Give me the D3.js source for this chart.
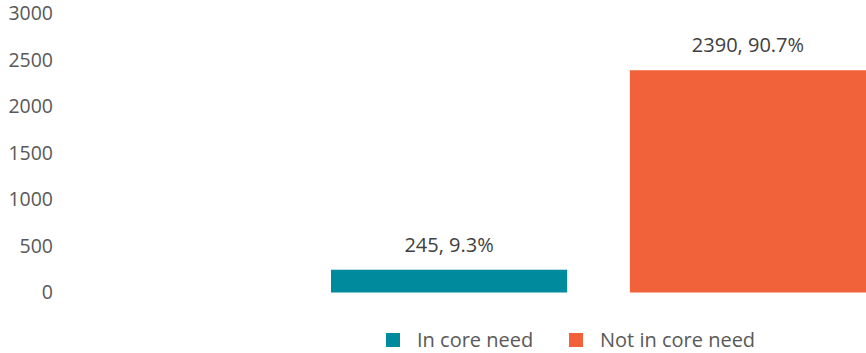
<!DOCTYPE html>
<html>
<head>
<meta charset="UTF-8">
<script src="https://d3js.org/d3.v7.min.js"></script>
<style>
  body { margin: 0; background: #fff; font-family: "Open Sans", sans-serif; }
  svg { display: block; }
  .tick text { fill: #595959; font-size: 19.5px; font-family: "Open Sans", sans-serif; }
</style>
</head>
<body>
<svg width="866" height="353"></svg>
<script>
  // data
  let series = ["In core need", "Not in core need"];
  let values = [245, 2390];
  let percents = ["9.3%", "90.7%"];
  let yTicks = [0, 500, 1000, 1500, 2000, 2500, 3000];
  let colors = ["#008A9E", "#F1623B"];

  let svg = d3.select("svg");

  let y = d3.scaleLinear()
      .domain([0, 3000])
      .range([292.5, 13.5]);

  let x = d3.scaleBand()
      .domain(series)
      .range([331, 866])
      .paddingInner(0.21)
      .paddingOuter(0);

  // y axis, labels only
  let yAxis = svg.append("g")
      .attr("transform", "translate(53,0)")
      .call(d3.axisLeft(y).tickValues(yTicks).tickSize(0).tickPadding(0).tickFormat(d3.format("d")));
  yAxis.select(".domain").remove();

  svg.selectAll(".bar")
      .data(series)
      .enter().append("rect")
      .attr("class", "bar")
      .attr("x", d => x(d))
      .attr("width", x.bandwidth())
      .attr("y", (d, i) => y(values[i]))
      .attr("height", (d, i) => y(0) - y(values[i]))
      .attr("fill", (d, i) => colors[i]);

  svg.selectAll(".label")
      .data(series)
      .enter().append("text")
      .attr("class", "label")
      .attr("x", d => x(d) + x.bandwidth() / 2)
      .attr("y", (d, i) => y(values[i]) - 25)
      .attr("dy", "0.35em")
      .attr("text-anchor", "middle")
      .style("font-size", "20px")
      .style("fill", "#404040")
      .text((d, i) => values[i] + ", " + percents[i]);

  // legend
  let legendX = [386, 569];
  let legend = svg.selectAll(".legend")
      .data(series)
      .enter().append("g")
      .attr("class", "legend")
      .attr("transform", (d, i) => `translate(${legendX[i]},333)`);
  legend.append("rect")
      .attr("width", 14)
      .attr("height", 14)
      .attr("fill", (d, i) => colors[i]);
  legend.append("text")
      .attr("x", 31)
      .attr("y", 14)
      .style("font-size", "20px")
      .style("fill", "#595959")
      .text(d => d);
</script>
</body>
</html>
